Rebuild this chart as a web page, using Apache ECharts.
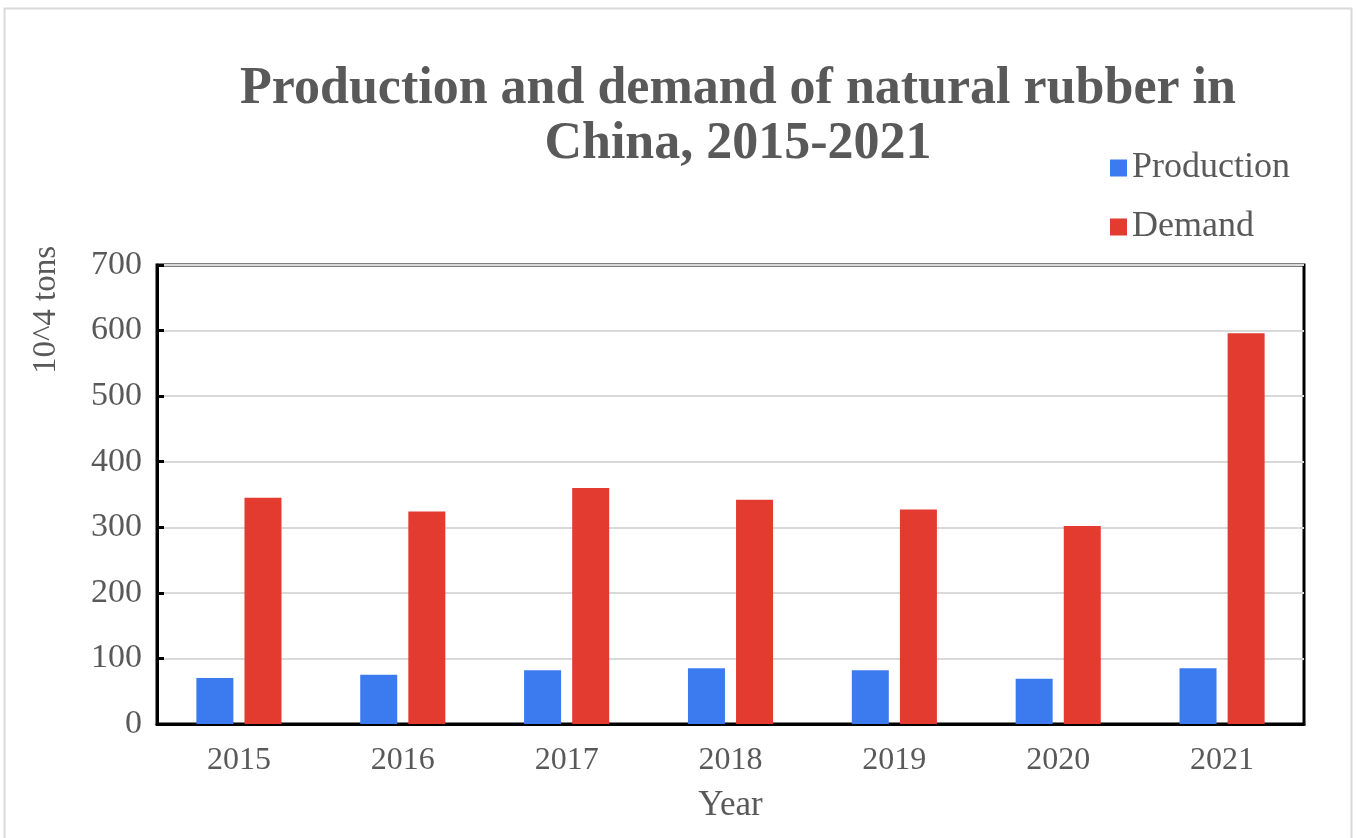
<!DOCTYPE html>
<html>
<head>
<meta charset="utf-8">
<script src="https://cdn.jsdelivr.net/npm/echarts@6/dist/echarts.min.js"></script>
<style>
html,body{margin:0;padding:0;background:#fff;}
#chart{width:1356px;height:838px;}
</style>
</head>
<body>
<div id="chart"></div>
<script>
var categories = ['2015', '2016', '2017', '2018', '2019', '2020', '2021'];
var production = [70, 75, 82, 85, 82, 69, 85];
var demand = [345, 324, 360, 342, 327, 302, 596];
var seriesNames = ['Production', 'Demand'];
var titleLines = ['Production and demand of natural rubber in', 'China, 2015-2021'];
var yAxisName = '10^4 tons';
var xAxisName = 'Year';

var FONT = '"Liberation Serif", "Times New Roman", serif';
var TXT = '#595959';

var chart = echarts.init(document.getElementById('chart'));
chart.setOption({
  backgroundColor: '#ffffff',
  animation: false,
  graphic: [
    { type: 'rect', shape: { x: 4.5, y: 8.5, width: 1347, height: 860 }, style: { fill: 'none', stroke: '#d9d9d9', lineWidth: 2 }, silent: true },
    { type: 'text', x: 738, y: 90, style: { text: titleLines[0], font: 'bold 52px ' + FONT, fill: TXT, textAlign: 'center', textVerticalAlign: 'middle' } },
    { type: 'text', x: 738, y: 145, style: { text: titleLines[1], font: 'bold 52px ' + FONT, fill: TXT, textAlign: 'center', textVerticalAlign: 'middle' } },
    { type: 'text', x: 46, y: 310, rotation: Math.PI / 2, style: { text: yAxisName, font: '33px ' + FONT, fill: TXT, textAlign: 'center', textVerticalAlign: 'middle' } }
  ],
  legend: {
    data: seriesNames,
    orient: 'vertical',
    left: 1105,
    top: 145,
    itemWidth: 17,
    itemHeight: 17,
    itemGap: 23,
    icon: 'rect',
    textStyle: { fontFamily: FONT, fontSize: 36, color: TXT }
  },
  grid: {
    left: 157, right: 52, top: 265, bottom: 114,
    show: true, borderColor: '#000', borderWidth: 3, backgroundColor: 'transparent',
    containLabel: false
  },
  xAxis: {
    type: 'category',
    data: categories,
    name: xAxisName,
    nameLocation: 'middle',
    nameGap: 64,
    nameTextStyle: { fontFamily: FONT, fontSize: 35, color: TXT },
    axisLine: { lineStyle: { color: '#000', width: 3 } },
    axisTick: { show: false },
    axisLabel: { fontFamily: FONT, fontSize: 32, color: TXT, margin: 21 }
  },
  yAxis: {
    type: 'value',
    min: 0, max: 700, interval: 100,
    axisLine: { show: true, lineStyle: { color: '#000', width: 3 } },
    axisTick: { show: true, inside: true, length: 7, lineStyle: { color: '#000', width: 3 } },
    axisLabel: { fontFamily: FONT, fontSize: 34, color: TXT, margin: 15 },
    splitLine: { lineStyle: { color: '#d9d9d9', width: 2 } }
  },
  series: [
    { name: seriesNames[0], type: 'bar', data: production, barWidth: 37, barGap: '30%', itemStyle: { color: '#3b7bef' } },
    { name: seriesNames[1], type: 'bar', data: demand, barWidth: 37, itemStyle: { color: '#e33b2f' } }
  ]
});
</script>
</body>
</html>
